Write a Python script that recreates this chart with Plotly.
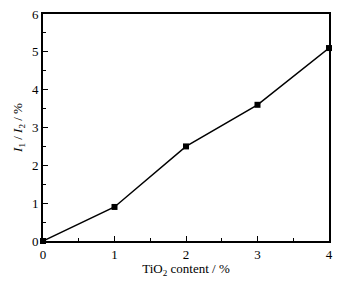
import plotly.graph_objects as go

tio2 = [0, 1, 2, 3, 4]
ratio = [0.0, 0.9, 2.5, 3.6, 5.1]
x_ticks = [0, 1, 2, 3, 4]
y_ticks = [0, 1, 2, 3, 4, 5, 6]

font = dict(family="Liberation Serif, Times New Roman, serif", size=13, color="black")

fig = go.Figure()
fig.add_trace(go.Scatter(
    x=tio2, y=ratio, mode="lines+markers",
    line=dict(color="black", width=1.5),
    marker=dict(symbol="square", size=6, color="black"),
    cliponaxis=False,
))

axis_common = dict(
    showgrid=False, zeroline=False, showline=True, linecolor="black", linewidth=1.8,
    mirror=True, ticks="inside", ticklen=5, tickwidth=1, tickcolor="black",
    tickfont=font, automargin=False, ticklabeloverflow="allow",
    minor=dict(ticks="inside", ticklen=3, tickwidth=1, tickcolor="black"),
)

fig.update_layout(
    template="none",
    width=348, height=274,
    margin=dict(l=35, r=27, t=6, b=41, pad=0),
    paper_bgcolor="white", plot_bgcolor="white",
    showlegend=False,
    font=font,
    xaxis=dict(range=[0, 4], tickvals=x_ticks, ticktext=[str(v) for v in x_ticks],
               title=dict(text="TiO<sub>2</sub> content / %", font=font, standoff=1),
               minor_dtick=0.5, **axis_common),
    yaxis=dict(range=[0, 6], tickvals=y_ticks, ticktext=[str(v) for v in y_ticks],
               title=dict(text="<i>I</i><sub>1</sub> / <i>I</i><sub>2</sub> / %", font=font, standoff=6),
               minor_dtick=0.5, **axis_common),
)

fig.write_html("out.html")
